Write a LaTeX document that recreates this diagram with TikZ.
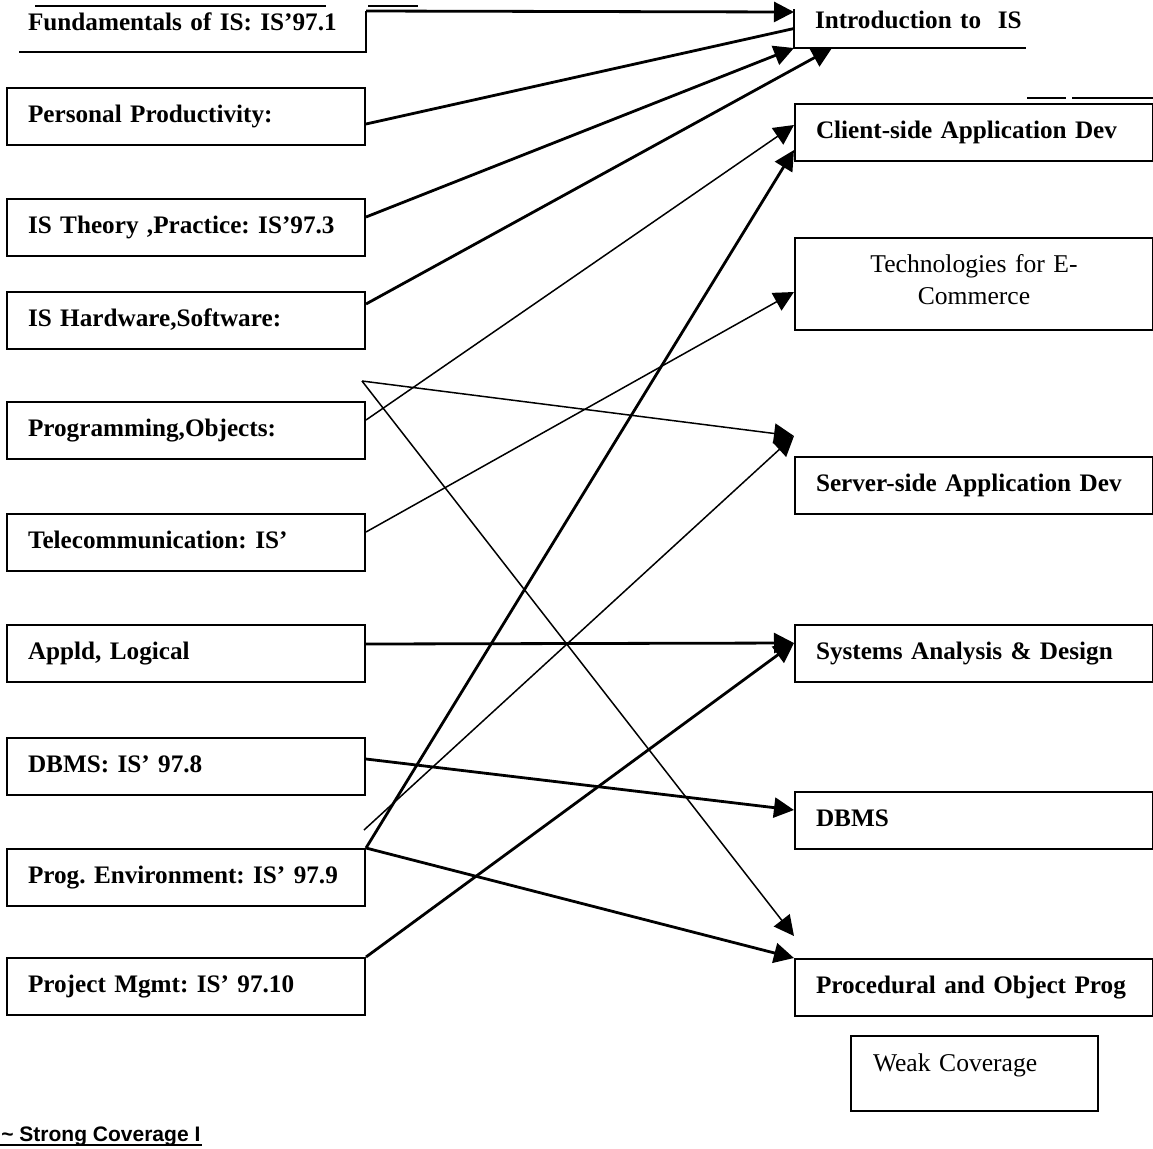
\documentclass[tikz,border=0pt]{standalone}
\usepackage{fontspec}
\setmainfont{Liberation Serif}
\newfontfamily\arialfont{Liberation Sans}
\usetikzlibrary{arrows.meta}
\frenchspacing

\begin{document}
\begin{tikzpicture}[
	x = 0.5pt, y = -0.5pt,
	line width = 1.4pt,
	> = {Triangle[length=10pt, width=10pt]},
	course/.style = { draw, line width = 1pt, rectangle,
		minimum width = 179pt, minimum height = 28.5pt,
		text width = 158pt, inner xsep = 10.5pt, inner ysep = 0pt,
		text height = 8.5pt, text depth = 2.5pt,
		align = left, font = \fontsize{12.6}{15}\selectfont\bfseries },
	light/.style = { line width = 0.75pt },
	stray/.style = { line width = 0.6pt }
	]
	\useasboundingbox (0,0) rectangle (1153,1148);

	\node [ course, draw = none, minimum width = 172.5pt, minimum height = 0pt,
		text width = 164.5pt, inner xsep = 4pt,
		text height = 9pt, text depth = 10.5pt ] (1) at (192.5,31.5)
		{ Fundamentals of IS: IS’97.1 };
	\node [ course ] (2) at (186,116) { Personal Productivity: };
	\node [ course ] (3) at (186,227.5) { IS Theory ,Practice: IS’97.3 };
	\node [ course ] (4) at (186,320.5) { IS Hardware,Software: };
	\node [ course ] (5) at (186,430.5) { Programming,Objects: };
	\node [ course ] (6) at (186,542) { Telecommunication: IS’ };
	\node [ course ] (7) at (186,653.5) { Appld, Logical };
	\node [ course ] (8) at (186,766.5) { DBMS: IS’ 97.8 };
	\node [ course ] (9) at (186,877.5) { Prog. Environment: IS’ 97.9 };
	\node [ course ] (10) at (186,986.5) { Project Mgmt: IS’ 97.10 };

	\node [ course, draw = none, minimum width = 135pt, minimum height = 0pt,
		text width = 115pt, inner xsep = 10pt,
		text height = 9pt, text depth = 9.5pt ] (11) at (930,28.5)
		{ Introduction to \ IS };
	\node [ course ] (12) at (974,132.5) { Client-side Application Dev };
	\node [ course, minimum height = 46pt, align = center,
		text height = 8.5pt, text depth = 20.5pt,
		font = \fontsize{12.8}{16}\selectfont ] (13) at (974,284)
		{ Technologies for E-\\Commerce };
	\node [ course ] (14) at (974,485.5) { Server-side Application Dev };
	\node [ course ] (15) at (974,653.5) { Systems Analysis \& Design };
	\node [ course ] (16) at (974,820) { DBMS };
	\node [ course ] (17) at (974,987.5) { Procedural and Object Prog };
	\node [ course, minimum width = 123.5pt, minimum height = 0pt,
		text width = 101.5pt, inner xsep = 11pt,
		text height = 17.5pt, text depth = 20pt,
		font = \fontsize{12.8}{15}\selectfont ] (18) at (974.5,1073.5)
		{ Weak Coverage };

	\node [ anchor = base west, inner sep = 0pt,
		font = \arialfont\fontsize{10.5}{12}\selectfont\bfseries ] (19) at (0,1141)
		{ \textasciitilde\ Strong Coverage I };
	\draw [ line width = 1pt ] ([yshift=-1.8pt]19.base west)
		-- ([yshift=-1.8pt]19.base east);

	\draw [ line width = 1pt ] (1.south west) -- (1.south east) -- (1.north east);
	\draw [ line width = 1pt ] (11.north west) -- (11.south west)
		-- ([xshift=-20pt]11.south east);
	\draw [ stray ] (35,6) -- (326,6) (368,6) -- (418,6);
	\draw [ stray ] (1027,98) -- (1066,98) (1072,98) -- (1153,98);

	\coordinate (a) at (362,381);
	\coordinate (b) at (364,830);

	\draw [ -> ] (1.north east) to ([yshift=-1.5pt]11.north west);
	\draw (2.east) ++(0,8) to (11.west);
	\draw [ -> ] ([yshift=5.25pt]3.east) to (11.south west);
	\draw [ -> ] ([yshift=8.25pt]4.east) to ([xshift=19pt]11.south west);
	\draw [ ->, light ] ([yshift=5.25pt]5.east) to ([yshift=3.75pt]12.west);
	\draw [ ->, light ] (a) to ([yshift=10pt]14.north west);
	\draw [ ->, light ] (a) to ([yshift=11pt]17.north west);
	\draw [ ->, light ] ([yshift=5pt]6.east) to ([yshift=-4pt]13.west);
	\draw [ -> ] ([yshift=4.75pt]7.east) to ([yshift=5.25pt]15.west);
	\draw [ -> ] ([yshift=3.75pt]8.east) to ([yshift=5pt]16.west);
	\draw [ -> ] (9.north east) to ([yshift=-8.75pt]12.west);
	\draw [ ->, light ] (b) to ([yshift=10pt]14.north west);
	\draw [ -> ] (9.north east) to (17.north west);
	\draw [ -> ] (10.north east) to ([yshift=5.25pt]15.west);
\end{tikzpicture}
\end{document}
